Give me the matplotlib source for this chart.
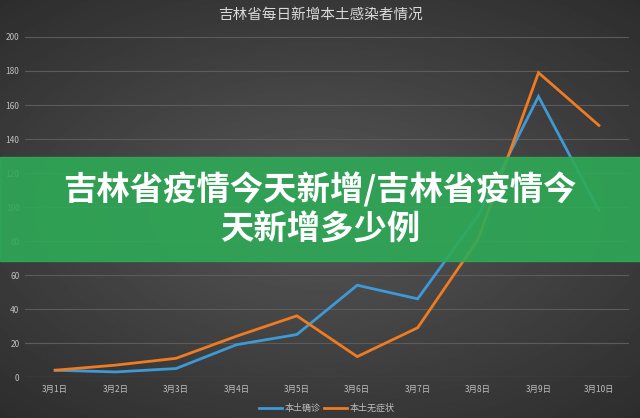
import numpy as np
import matplotlib.pyplot as plt
from matplotlib.patches import Rectangle

plt.rcParams['font.family'] = ['Noto Sans CJK SC', 'DejaVu Sans']

days = ['3月1日', '3月2日', '3月3日', '3月4日', '3月5日',
        '3月6日', '3月7日', '3月8日', '3月9日', '3月10日']
confirmed = [4, 3, 5, 19, 25, 54, 46, 95, 165, 98]
asymptomatic = [4, 7, 11, 24, 36, 12, 29, 81, 179, 148]

title = '吉林省每日新增本土感染者情况'
banner = '吉林省疫情今天新增/吉林省疫情今\n天新增多少例'

fig = plt.figure(figsize=(6.4, 4.18), dpi=100)

# dark vignette background
bg = fig.add_axes([0, 0, 1, 1], zorder=0)
yy, xx = np.mgrid[-1:1:300j, -1:1:460j]
r = np.sqrt((xx * 0.9) ** 2 + (yy * 1.0) ** 2)
bg.imshow(0.34 - 0.17 * np.clip(r, 0, 1.4) / 1.4, cmap='gray', vmin=0, vmax=1,
          aspect='auto', extent=[0, 1, 0, 1])
bg.axis('off')

ax = fig.add_axes([0.039, 0.098, 0.944, 0.8135], zorder=1)
ax.patch.set_alpha(0)
x = np.arange(len(days))
ax.plot(x, confirmed, color='#3d9ad6', lw=2, label='本土确诊', solid_joinstyle='miter')
ax.plot(x, asymptomatic, color='#ef7b22', lw=2, label='本土无症状', solid_joinstyle='miter')
ax.set_xlim(-0.5, len(days) - 0.5)
ax.set_ylim(0, 200)
ax.set_yticks(range(0, 201, 20))
ax.set_xticks(x)
ax.set_xticklabels(days)
ax.tick_params(colors='#bfbfbf', labelsize=6, length=0)
ax.tick_params(axis='x', pad=6)
ax.tick_params(axis='y', pad=4)
ax.grid(axis='y', color='#5c5c5c', lw=0.8)
ax.set_axisbelow(True)
for s in ax.spines.values():
    s.set_visible(False)
ax.axhline(0, color='#6a6a6a', lw=0.8, zorder=0.5)

fig.text(0.5, 0.965, title, ha='center', va='center', color='#d9d9d9', fontsize=10.5)

leg = ax.legend(loc='upper center', bbox_to_anchor=(0.5, -0.055), ncol=2, frameon=False,
                fontsize=6.5, handlelength=2.5, columnspacing=0.4, handletextpad=0.3)
for t in leg.get_texts():
    t.set_color('#bfbfbf')

# green banner
fig.patches.append(Rectangle((0, 0.3756), 1, 0.2488, transform=fig.transFigure,
                             color='#2eaa57', alpha=0.9, zorder=5))
fig.text(0.5, 0.5, banner, ha='center', va='center', color='white', fontsize=24,
         fontweight='heavy', linespacing=1.2, zorder=6)

fig.savefig('out.png', dpi=100)
